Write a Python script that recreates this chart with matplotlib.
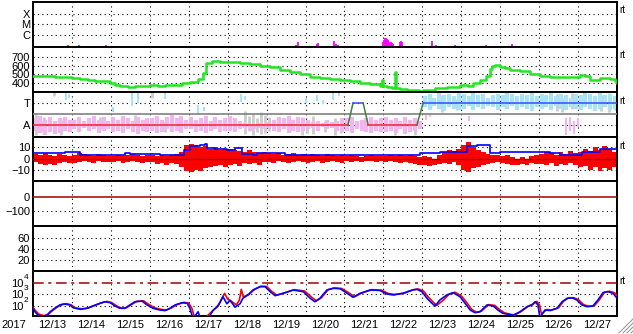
import numpy as np
import matplotlib
matplotlib.use('Agg')
import matplotlib.pyplot as plt
from matplotlib.lines import Line2D
from matplotlib.transforms import offset_copy

plt.rcParams['font.family'] = ['Liberation Sans', 'DejaVu Sans']
plt.rcParams['font.size'] = 8

# ---------------- data (time in days from 2017-12-13 00:00) ----------------
date_labels = ['12/13', '12/14', '12/15', '12/16', '12/17', '12/18', '12/19', '12/20',
               '12/21', '12/22', '12/23', '12/24', '12/25', '12/26', '12/27']
year_label = '2017'

# X-ray flux spikes (W/m2)
xray_t = [0.90, 1.18, 1.875, 6.756, 6.807, 7.295, 7.321, 7.732, 7.783, 7.835,
          8.99, 9.016, 9.042, 9.068, 9.094, 9.119, 9.145, 9.17, 9.196, 9.22, 9.247,
          9.427, 9.453, 9.479, 10.249, 10.352, 10.84, 11.636, 12.30]
xray_flux = [1.05e-7, 1.05e-7, 1.05e-7, 1.1e-7, 2.2e-7, 1.4e-7, 1.75e-7, 2.7e-7, 1.4e-7, 1.2e-7,
             2.2e-7, 3.4e-7, 4.7e-7, 5.6e-7, 4.2e-7, 3.0e-7, 2.2e-7, 1.75e-7, 2.2e-7, 1.75e-7, 1.4e-7,
             2.2e-7, 2.7e-7, 2.2e-7, 2.7e-7, 1.05e-7, 1.05e-7, 1.05e-7, 1.4e-7]

# Solar wind speed (km/s)
sw_t = [0.0, 0.18, 0.44, 0.57, 0.75, 1.0, 1.21, 1.41, 1.59, 1.80, 1.98, 2.11, 2.23, 2.44,
        2.62, 2.88, 3.01, 3.21, 3.39, 3.65, 3.83, 4.03, 4.24, 4.37, 4.44, 4.60, 4.80, 5.06,
        5.32, 5.58, 5.83, 6.09, 6.35, 6.60, 6.86, 7.12, 7.37, 7.63, 7.89, 8.14, 8.40, 8.66,
        8.91, 8.96, 8.98, 9.10, 9.22, 9.30, 9.32, 9.42, 9.60, 9.75, 9.91, 10.02, 10.33, 10.63,
        10.97, 11.17, 11.30, 11.48, 11.64, 11.74, 11.80, 11.87, 12.0, 12.13, 12.25, 12.51,
        12.77, 13.02, 13.28, 13.54, 13.79, 13.92, 14.05, 14.18, 14.31, 14.56, 14.69, 14.82,
        14.95, 15.0]
sw_v = [485, 478, 482, 472, 468, 455, 445, 432, 428, 420, 395, 380, 368, 358,
        360, 366, 372, 365, 372, 378, 395, 415, 450, 520, 625, 650, 645, 640,
        630, 618, 600, 580, 555, 530, 505, 470, 455, 445, 430, 418, 405, 385,
        365, 430, 362, 350, 340, 530, 338, 335, 325, 320, 312, 318, 338, 355,
        375, 368, 400, 435, 480, 560, 600, 610, 590, 570, 555, 540,
        505, 482, 473, 470, 470, 475, 488, 480, 440, 458, 458, 450,
        427, 400]

# Sector (T = +1, A = -1)
sector_t = [0.0, 8.09, 8.22, 8.48, 8.61, 9.86, 10.02, 15.0]
sector_v = [-1, -1, 1, 1, -1, -1, 1, 1]

# Away-cloud (pink) per 3-hour bin, days 0-10
pink_hi = [-0.4, -0.2, -0.5, -0.3, -0.6, -0.4, -0.3, -0.5,
           -0.5, -0.3, -0.6, -0.4, -0.2, -0.5, -0.3, -0.6,
           -0.3, -0.5, -0.2, -0.4, -0.6, -0.3, -0.5, -0.4,
           -0.4, -0.2, -0.5, -0.3, -0.1, -0.4, -0.2, -0.5,
           -0.3, -0.5, -0.4, -0.2, -0.6, -0.3, -0.5, -0.4,
           -0.2, -0.4, -0.6, -0.8, -0.9, -1.0, -0.8, -0.9,
           -0.7, -0.5, -0.3, -0.4, -0.2, -0.5, -0.3, -0.4,
           -0.5, -0.7, -0.6, -0.8, -0.5, -0.7, -0.6, -0.4,
           -0.4, -0.3, -0.6, -0.5, -0.4, -0.3, -0.5, -0.4,
           -0.3, -0.5, -0.4, -0.6, -0.3, -0.5, -0.4, -0.6]
pink_lo = [-1.5, -1.7, -1.9, -1.6, -1.8, -1.7, -1.5, -1.6,
           -1.4, -1.6, -1.3, -1.5, -1.4, -1.7, -1.5, -1.4,
           -1.6, -1.5, -1.7, -1.4, -1.6, -1.8, -1.5, -1.6,
           -1.5, -1.7, -1.6, -1.4, -1.6, -1.5, -1.7, -1.4,
           -1.4, -1.6, -1.5, -1.7, -1.5, -1.4, -1.6, -1.5,
           -1.5, -1.6, -1.4, -1.3, -1.5, -1.4, -1.3, -1.4,
           -1.3, -1.5, -1.6, -1.4, -1.7, -1.5, -1.6, -1.5,
           -1.4, -1.3, -1.5, -1.2, -1.4, -1.3, -1.5, -1.6,
           -1.5, -1.7, -1.4, -1.5, -1.6, -1.7, -1.5, -1.6,
           -1.6, -1.5, -1.7, -1.4, -1.8, -1.6, -1.5, -1.4]
# Toward-cloud (light blue) per 3-hour bin, days 10-15
lblue_hi = [1.6, 1.8, 1.5, 1.9, 1.7, 1.8, 1.6, 1.9,
            1.8, 1.6, 1.9, 1.7, 1.8, 1.5, 1.7, 1.8,
            1.7, 1.9, 1.8, 1.6, 1.8, 1.7, 1.9, 1.6,
            1.8, 1.7, 1.9, 1.6, 1.8, 1.7, 1.5, 1.8,
            1.7, 1.9, 1.8, 1.6, 1.9, 1.7, 1.8, 1.6]
lblue_lo = [0.6, 0.4, 0.7, 0.5, 0.3, 0.6, 0.5, 0.4,
            0.5, 0.7, 0.4, 0.6, 0.5, 0.7, 0.6, 0.4,
            0.6, 0.5, 0.7, 0.4, 0.6, 0.5, 0.3, 0.6,
            0.5, 0.6, 0.4, 0.7, 0.5, 0.4, 0.6, 0.5,
            0.4, 0.6, 0.5, 0.3, 0.5, 0.6, 0.4, 0.5]
# sparse toward points in days 0-10
lbs_t = [0.85, 0.93, 2.05, 2.55, 2.7, 3.38, 4.25, 4.4, 5.35, 5.45, 7.0, 7.3, 7.45, 7.7, 7.85]
lbs_lo = [1.3, 1.5, 0.2, 0.7, 1.0, 1.4, -0.1, 0.3, 1.1, 1.3, 1.0, 1.2, 0.9, 1.3, 1.6]
lbs_hi = [2.0, 1.8, 0.6, 1.9, 2.0, 1.9, 0.8, 0.6, 1.8, 1.6, 1.5, 1.7, 1.3, 2.0, 1.9]
# sparse away points in days 10-15
pks_t = [10.1, 10.2, 11.2, 13.7, 13.8, 13.9, 14.0]
pks_lo = [-0.5, -0.3, -0.6, -1.9, -1.5, -1.8, -1.2]
pks_hi = [-0.1, 0.0, -0.2, -0.4, -0.3, -0.6, -0.4]
# gray (undetermined) points
gray_t = [0.08, 0.2, 0.28, 0.55, 0.72, 1.72, 2.62, 3.05, 3.4, 4.3, 5.45, 5.55, 5.65, 5.75,
          5.85, 5.95, 6.05, 6.9, 7.05, 7.2, 7.5, 7.75, 7.9, 9.3, 9.8, 10.5, 10.9, 13.45,
          13.6, 13.85, 14.6, 14.8, 14.95]
gray_lo = [-1.9, -1.6, -1.8, 1.6, -1.9, -1.4, -1.0, 1.5, -1.6, -1.2, -1.8, -1.5, -1.9, -1.6,
           -1.8, -1.7, -1.5, -1.9, -1.7, -1.8, -1.6, -1.9, -1.7, -1.9, -1.9, 0.2, 0.4, 0.3,
           0.2, 0.5, 0.3, 0.2, 0.4]
gray_hi = [0.1, -0.6, -0.3, 2.0, -0.55, -0.3, -0.1, 2.0, -0.6, -0.5, 0.3, -0.2, 0.0, -0.4,
           0.2, -0.1, -0.3, -0.3, -0.5, -0.2, -0.6, -0.4, -1.0, -1.2, -1.4, 1.7, 1.4, 1.8,
           1.5, 1.9, 1.7, 1.9, 1.6]

# IMF Bz (min/max per 3-hour bin, nT)
bz_hi = [4, 3, 5, 3, 2, 4, 3, 2,
         3, 5, 4, 3, 2, 4, 3, 2,
         2, 3, 2, 3, 4, 3, 2, 3,
         3, 2, 3, 2, 3, 4, 6, 12,
         13, 12, 10, 11, 9, 10, 8, 9,
         9, 8, 7, 6, 8, 6, 5, 6,
         5, 4, 5, 3, 4, 5, 3, 4,
         3, 4, 3, 2, 4, 3, 2, 3,
         2, 3, 2, 1, 2, 3, 2, 2,
         2, 3, 2, 3, 2, 3, 2, 1,
         2, 1, 0, 3, 6, 8, 7, 9,
         12, 15, 10, 8, 6, 4, 3, 3,
         2, 3, 1, 0, 1, 0, 2, 3,
         4, 6, 5, 3, 6, 4, 7, 5,
         6, 9, 7, 10, 8, 11, 9, 6]
bz_lo = [-3, -5, -6, -5, -6, -4, -3, -4,
         -4, -3, -2, -3, -4, -2, -3, -3,
         -3, -2, -4, -3, -2, -3, -4, -3,
         -3, -5, -4, -6, -4, -5, -8, -11,
         -12, -10, -11, -9, -8, -7, -6, -8,
         -6, -5, -7, -4, -5, -4, -6, -3,
         -3, -4, -2, -3, -4, -3, -2, -3,
         -4, -3, -2, -4, -3, -2, -3, -4,
         -2, -3, -2, -3, -2, -2, -3, -2,
         -3, -2, -3, -4, -3, -4, -5, -6,
         -6, -7, -6, -5, -4, -5, -3, -6,
         -10, -12, -9, -8, -6, -5, -4, -3,
         -4, -5, -6, -6, -5, -6, -4, -5,
         -5, -6, -4, -7, -5, -6, -4, -6,
         -8, -7, -10, -8, -11, -9, -10, -8]
# IMF Bt (nT)
bt_t = [0.0, 0.82, 1.2, 1.98, 2.36, 2.49, 3.26, 3.78, 3.88, 4.03, 4.29, 4.42, 4.47, 4.68,
        4.98, 5.19, 5.37, 5.65, 5.75, 6.47, 6.86, 8.14, 9.86, 9.94, 10.45, 11.05, 11.15,
        11.4, 11.6, 11.74, 12.0, 13.02, 13.28, 13.54, 14.1, 14.49, 14.56, 14.9, 15.0]
bt_v = [4.7, 6.2, 3.2, 3.5, 4.7, 4.0, 3.5, 3.2, 8.0, 11.0, 12.5, 13.5, 9.3, 8.5,
        8.0, 9.3, 4.0, 3.2, 5.3, 3.2, 3.5, 3.4, 3.5, 5.3, 6.2, 6.2, 11.0,
        12.0, 12.3, 4.7, 6.2, 6.2, 5.0, 3.2, 6.2, 6.2, 8.4, 8.4, 6.2]

# Electron flux (log10), two satellites
eb_t = [0.0, 0.05, 0.13, 0.26, 0.36, 0.44, 0.57, 0.69, 0.82, 0.95, 1.03, 1.21, 1.39, 1.54,
        1.72, 1.85, 1.98, 2.11, 2.23, 2.36, 2.49, 2.62, 2.80, 2.93, 3.08, 3.26, 3.39, 3.52,
        3.65, 3.83, 3.96, 4.03, 4.11, 4.24, 4.30, 4.50, 4.62, 4.73, 4.80, 4.88, 4.98, 5.06,
        5.19, 5.32, 5.39, 5.52, 5.65, 5.83, 5.96, 6.09, 6.22, 6.42, 6.68, 6.94, 7.12, 7.24,
        7.37, 7.55, 7.71, 7.89, 8.07, 8.22, 8.40, 8.66, 8.91, 9.09, 9.25, 9.50, 9.74, 9.86,
        9.99, 10.12, 10.25, 10.33, 10.45, 10.63, 10.79, 10.97, 11.10, 11.23, 11.35, 11.48,
        11.66, 11.82, 11.94, 12.07, 12.33, 12.51, 12.69, 12.82, 12.90, 12.97, 13.02, 13.15,
        13.28, 13.46, 13.59, 13.72, 13.85, 13.97, 14.10, 14.23, 14.38, 14.51, 14.64, 14.77,
        14.90, 15.0]
eb_log = [1.83, 1.5, 1.2, 1.1, 1.2, 1.5, 1.83, 2.09, 2.17, 2.09, 1.85, 1.71, 1.8, 2.0,
          2.23, 2.37, 2.29, 2.0, 1.8, 1.8, 2.09, 2.37, 2.43, 2.09, 1.8, 1.65, 1.6, 1.8,
          2.09, 2.29, 2.23, 1.8, 0.9, 1.5, 0.9, 0.9, 1.6, 1.94, 2.3, 2.8, 2.2, 2.5,
          1.9, 2.2, 2.67, 2.96, 3.39, 3.68, 3.68, 3.25, 2.9, 3.1, 3.39, 3.25, 2.67, 2.37,
          2.67, 3.39, 3.54, 3.5, 3.1, 2.76, 3.1, 3.39, 3.35, 3.04, 2.96, 3.1, 3.39, 3.45,
          3.25, 2.67, 2.23, 2.0, 2.52, 2.96, 3.16, 2.8, 2.23, 1.65, 1.42, 1.5,
          2.09, 2.0, 1.65, 1.36, 1.2, 1.5, 1.94, 2.09, 2.37, 2.09, 1.0, 1.65,
          1.6, 1.8, 2.37, 2.67, 2.7, 2.52, 2.09, 1.94, 2.0, 2.52, 3.16, 3.25,
          3.1, 2.67]
er_t = [0.0, 0.06, 0.15, 0.28, 0.40, 0.50, 0.62, 0.75, 0.86, 0.98, 1.08, 1.25, 1.42, 1.58,
        1.76, 1.90, 2.02, 2.15, 2.28, 2.40, 2.53, 2.66, 2.84, 2.97, 3.12, 3.30, 3.43, 3.56,
        3.70, 3.88, 4.00, 4.08, 4.15, 4.40, 4.65, 4.76, 4.84, 4.92, 5.00, 5.10, 5.22, 5.30,
        5.35, 5.40, 5.55, 5.68, 5.86, 6.00, 6.12, 6.26, 6.45, 6.72, 6.98, 7.16, 7.28, 7.41,
        7.58, 7.75, 7.93, 8.11, 8.26, 8.44, 8.70, 8.95, 9.13, 9.29, 9.54, 9.78, 9.90, 10.03,
        10.16, 10.29, 10.37, 10.50, 10.55, 10.68, 10.84, 11.01, 11.14, 11.27, 11.39, 11.52,
        11.70, 11.86, 11.98, 12.11, 12.37, 12.55, 12.73, 12.86, 12.94, 13.01, 13.06, 13.20,
        13.32, 13.50, 13.63, 13.76, 13.89, 14.01, 14.14, 14.27, 14.42, 14.55, 14.68, 14.81,
        14.94, 15.0]
er_log = [1.9, 1.6, 1.3, 1.15, 1.3, 1.6, 1.9, 2.15, 2.2, 2.1, 1.85, 1.75, 1.82, 2.05,
          2.28, 2.4, 2.3, 2.0, 1.8, 1.85, 2.12, 2.4, 2.45, 2.15, 1.85, 1.7, 1.65, 1.85,
          2.12, 2.32, 2.25, 1.8, 1.0, 0.9, 1.7, 2.0, 2.6, 3.1, 2.6, 2.4, 2.1, 2.5,
          3.45, 2.8, 3.0, 3.42, 3.72, 3.7, 3.3, 2.95, 3.12, 3.42, 3.3, 2.75, 2.45, 2.72,
          3.42, 3.57, 3.52, 3.15, 2.8, 3.12, 3.42, 3.38, 3.08, 3.0, 3.12, 3.42, 3.48, 3.3,
          2.75, 2.3, 2.05, 2.4, 2.55, 3.0, 3.2, 2.85, 2.3, 1.7, 1.45, 1.55,
          2.12, 2.05, 1.7, 1.4, 1.2, 1.55, 2.0, 2.2, 2.4, 2.1, 1.3, 1.7,
          1.65, 1.85, 2.42, 2.72, 2.72, 2.55, 2.12, 1.98, 2.02, 2.55, 3.2, 3.28,
          3.15, 2.9]
e_ticks = [2, 3, 4]

# ---------------- figure ----------------
W, H = 633, 334
fig = plt.figure(figsize=(W / 100, H / 100), dpi=100)
axes = fig.subplots(7, 1, sharex=True,
                    gridspec_kw=dict(hspace=0, left=33 / W, right=617 / W,
                                     top=1 - 2 / H, bottom=1 - 316 / H))

DOT = (0, (1, 3))
GRID_KW = dict(color='black', lw=0.8, ls=DOT, zorder=1)
bin_c = np.arange(120) * 0.125 + 0.0625

for ax in axes:
    ax.set_xlim(0, 15)
    for s in ax.spines.values():
        s.set_linewidth(1.4)
    ax.tick_params(length=0, pad=2, labelsize=8)
    for d in range(1, 15):
        ax.axvline(d, **GRID_KW)

# panel 1: X-ray
ax = axes[0]
ax.set_yscale('log')
lo1 = 10 ** -7.13
ax.set_ylim(lo1, 10 ** -2.86)
ax.set_yticks([1e-6, 1e-5, 1e-4], ['C', 'M', 'X'])
ax.minorticks_off()
for v in [1e-6, 1e-5, 1e-4]:
    ax.axhline(v, **GRID_KW)
ax.vlines(xray_t, lo1, xray_flux, color='#ff00ff', lw=1.3, zorder=3)

# panel 2: solar wind speed
ax = axes[1]
ax.set_ylim(300, 816)
ax.set_yticks([400, 500, 600, 700])
for v in [400, 500, 600, 700]:
    ax.axhline(v, **GRID_KW)
ax.step(sw_t, sw_v, where='post', color='#22e622', lw=1.8, zorder=3)

# panel 3: sector
ax = axes[2]
ax.set_ylim(-2.05, 2.03)
ax.set_yticks([-1, 1], ['A', 'T'])
for v in [-1, 1]:
    ax.axhline(v, **GRID_KW)
ax.vlines(np.array(gray_t), gray_lo, gray_hi, color='#cccccc', lw=2.0, zorder=2)
ax.vlines(bin_c[:80], pink_lo, pink_hi, color='#f4b4f0', lw=3.0, zorder=2)
ax.vlines(bin_c[80:], lblue_lo, lblue_hi, color='#a8e4f8', lw=3.0, zorder=2)
ax.vlines(lbs_t, lbs_lo, lbs_hi, color='#a8e4f8', lw=1.5, zorder=2)
ax.vlines(pks_t, pks_lo, pks_hi, color='#f4b4f0', lw=1.5, zorder=2)
ax.axhline(0, color='#808080', lw=1.2, zorder=3)
for i in range(len(sector_t) - 1):
    a, b = sector_v[i], sector_v[i + 1]
    c = '#ff2020' if (a == b and a < 0) else ('#3050ff' if a == b else '#3f7f3f')
    ax.plot(sector_t[i:i + 2], sector_v[i:i + 2], color=c, lw=1.1, zorder=4)

# panel 4: IMF
ax = axes[3]
ax.set_ylim(-20.8, 19.9)
ax.set_yticks([-10, 0, 10])
for v in [-10, 10]:
    ax.axhline(v, **GRID_KW)
ax.bar(bin_c, np.array(bz_hi) - np.array(bz_lo), bottom=bz_lo, width=0.125,
       color='#ff0000', lw=0, zorder=2)
ax.axhline(0, color='#a00000', lw=1.0, zorder=3)
ax.step(bt_t, bt_v, where='post', color='#0000ff', lw=1.2, zorder=4)

# panel 5: Dst
ax = axes[4]
ax.set_ylim(-202, 107)
ax.set_yticks([-100, 0])
ax.axhline(-100, **GRID_KW)
ax.axhline(0, color='#a00000', lw=1.1, zorder=3)

# panel 6
ax = axes[5]
ax.set_ylim(0, 81)
ax.set_yticks([20, 40, 60])
for v in [20, 40, 60]:
    ax.axhline(v, **GRID_KW)

# panel 7: electrons
ax = axes[6]
ax.set_yscale('log')
ax.set_ylim(10 ** 1.13, 10 ** 5.03)
ax.set_yticks([])
ax.minorticks_off()
for v in [1e2, 1e3]:
    ax.axhline(v, **GRID_KW)
ax.axhline(1e4, color='#a00000', lw=1.1, ls=(0, (7, 3, 2, 3)), zorder=3)
ax.plot(er_t, 10 ** np.array(er_log), color='#ff0000', lw=1.2, zorder=3)
ax.plot(eb_t, 10 ** np.array(eb_log), color='#0000ff', lw=1.2, zorder=4)
ytrans = ax.get_yaxis_transform()
base_tr = offset_copy(ytrans, fig=fig, x=-10, y=-1, units='dots')
exp_tr = offset_copy(ytrans, fig=fig, x=-9, y=2, units='dots')
for e in e_ticks:
    ax.text(0, 10.0 ** e, '10', transform=base_tr, ha='right', va='center', fontsize=8)
    ax.text(0, 10.0 ** e, str(e), transform=exp_tr, ha='left', va='bottom', fontsize=6)

ax.set_xticks(np.arange(15) + 0.5, date_labels)
ax.tick_params(axis='x', pad=3)

fig.text(1 / W, 1 - 325 / H, year_label, va='center', ha='left', fontsize=8)
for y in [10, 55, 101, 146, 281]:
    fig.text(619 / W, 1 - y / H, 'rt', va='center', ha='left', fontsize=7)

for k in range(4):
    off = 4 * k
    fig.add_artist(Line2D([(619 + off) / W, (633) / W], [1 - 333 / H, 1 - (333 - 14 + off) / H],
                          color='#909090', lw=0.7))

fig.savefig('out.png', dpi=100)
